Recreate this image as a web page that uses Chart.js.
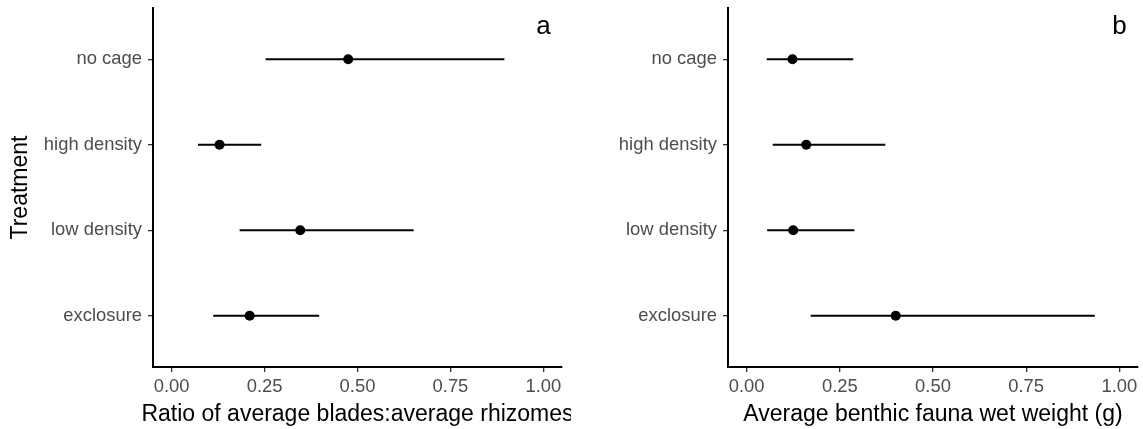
<!DOCTYPE html>
<html>
<head>
<meta charset="utf-8">
<script src="https://cdn.jsdelivr.net/npm/chart.js@4.4.1/dist/chart.umd.min.js"></script>
<style>
  html, body { margin: 0; padding: 0; background: #fff; }
  .row { display: flex; width: 1143px; height: 429px; }
  .panel { position: relative; height: 429px; }
</style>
</head>
<body>
<div class="row">
  <div class="panel" style="width:571px"><canvas id="chart-a"></canvas></div>
  <div class="panel" style="width:572px"><canvas id="chart-b"></canvas></div>
</div>
<script>
// ── data ─────────────────────────────────────────────
const treatments = ['no cage', 'high density', 'low density', 'exclosure'];   // top → bottom
const xTicks     = [0, 0.25, 0.5, 0.75, 1];

// panel a: ratio of average blades : average rhizomes
const ratioMean  = [0.475, 0.129, 0.346, 0.210];
const ratioLow   = [0.253, 0.071, 0.183, 0.112];
const ratioHigh  = [0.895, 0.241, 0.651, 0.397];

// panel b: average benthic fauna wet weight (g)
const faunaMean  = [0.123, 0.160, 0.125, 0.400];
const faunaLow   = [0.054, 0.070, 0.055, 0.172];
const faunaHigh  = [0.286, 0.372, 0.289, 0.934];

const FONT = '"Liberation Sans", Arial, sans-serif';

// panel letter (top right) and x title; the built-in title squeezes
// long text to the axis width, so it is drawn here instead
const panelText = {
  id: 'panelText',
  afterDraw(chart, args, opts) {
    const { ctx, scales, chartArea } = chart;
    ctx.save();
    ctx.fillStyle = '#000';
    ctx.textAlign = 'center';

    ctx.font = `26px ${FONT}`;
    ctx.textBaseline = 'alphabetic';
    ctx.fillText(opts.tag, scales.x.getPixelForValue(1), scales.y.getPixelForValue(0.70));

    ctx.font = `23px ${FONT}`;
    ctx.textBaseline = 'middle';
    ctx.fillText(opts.xTitle, (chartArea.left + chartArea.right) / 2, 415);
    ctx.restore();
  },
};

function makePanel(id, mean, low, high, xTitle, showYTitle, yWidth, padRight, tag) {
  // one horizontal segment per treatment, then the means on top
  const bars = treatments.map((t, i) => ({
    type: 'line',
    data: [{ x: low[i], y: i + 1 }, { x: high[i], y: i + 1 }],
    borderColor: '#000',
    borderWidth: 2,
    pointRadius: 0,
    fill: false,
  }));

  const points = {
    type: 'scatter',
    data: mean.map((m, i) => ({ x: m, y: i + 1 })),
    backgroundColor: '#000',
    borderColor: '#000',
    pointRadius: 5,
    pointBorderWidth: 0,
  };

  return new Chart(document.getElementById(id), {
    type: 'scatter',
    data: { datasets: [...bars, points] },
    plugins: [panelText],
    options: {
      responsive: true,
      maintainAspectRatio: false,
      animation: false,
      layout: { padding: { top: 8, right: padRight, left: 0, bottom: 0 } },
      plugins: {
        legend: { display: false },
        tooltip: { enabled: false },
        panelText: { tag, xTitle },
      },
      scales: {
        x: {
          type: 'linear',
          min: -0.05,
          max: 1.05,
          afterBuildTicks: s => { s.ticks = xTicks.map(v => ({ value: v })); },
          afterFit: s => { s.height = 62; },
          border: { display: true, color: '#000', width: 2 },
          grid: { drawOnChartArea: false, drawTicks: true, tickLength: 5, color: '#333', lineWidth: 1.3 },
          ticks: {
            color: '#4d4d4d',
            padding: 4,
            maxRotation: 0,
            font: { family: FONT, size: 18.4 },
            callback: v => v.toFixed(2),
          },
        },
        y: {
          type: 'linear',
          reverse: true,
          min: 0.4,
          max: 4.6,
          afterBuildTicks: s => { s.ticks = treatments.map((t, i) => ({ value: i + 1 })); },
          afterFit: s => {
            s.width = yWidth;
            s.paddingTop = 0;
            s.paddingBottom = 0;
          },
          border: { display: true, color: '#000', width: 2 },
          grid: { drawOnChartArea: false, drawTicks: true, tickLength: 5, color: '#333', lineWidth: 1.3 },
          ticks: {
            color: '#4d4d4d',
            padding: 6,
            font: { family: FONT, size: 18.4 },
            callback: v => treatments[Math.round(v) - 1] ?? '',
          },
          title: {
            display: showYTitle,
            text: 'Treatment',
            color: '#000',
            padding: { top: 7, bottom: 4 },
            font: { family: FONT, size: 23 },
          },
        },
      },
    },
  });
}

makePanel('chart-a', ratioMean, ratioLow, ratioHigh,
  'Ratio of average blades:average rhizomes', true, 153, 9, 'a');
makePanel('chart-b', faunaMean, faunaLow, faunaHigh,
  'Average benthic fauna wet weight (g)', false, 157, 5, 'b');
</script>
</body>
</html>
